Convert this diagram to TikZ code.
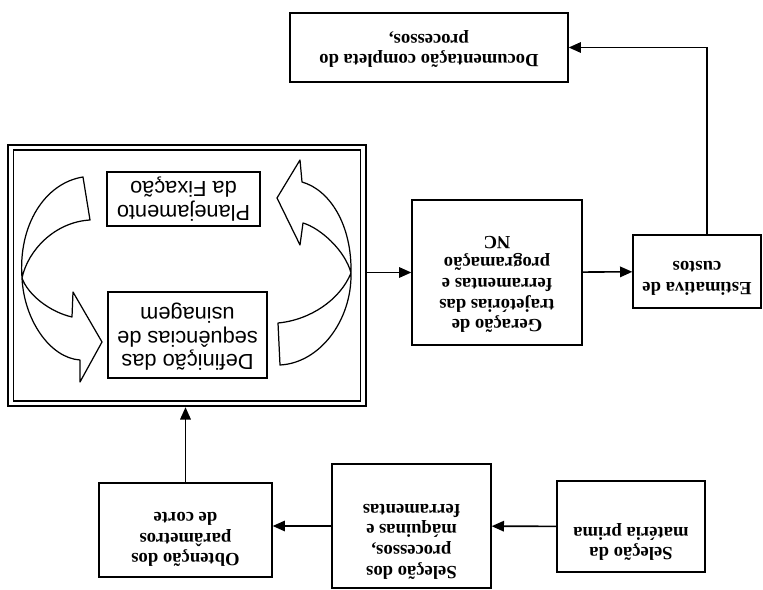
\documentclass[tikz,border=0pt]{standalone}
\usepackage{fontspec}
\setmainfont{Liberation Serif}
\setsansfont{Liberation Sans}
\usetikzlibrary{arrows.meta}

% extra depth below the last line, to push the text up in its box
\newcommand{\pad}[1]{\rule[-#1]{0pt}{0pt}}

\begin{document}
\begin{tikzpicture}[x=0.02cm, y=-0.02cm,
    box/.style={draw, line width=0.8pt, align=center, inner sep=0pt,
      font=\bfseries\fontsize{10.6}{11.8}\selectfont},
    sbox/.style={box, font=\sffamily\fontsize{12.4}{13.2}\selectfont},
    arr/.style={line width=0.9pt, -{Triangle[length=7pt,width=6pt]}},
    curvarrow/.style={draw, line width=0.7pt, line join=round}]

    \useasboundingbox (0,0) rectangle (763,590);

    % the whole diagram is printed upside down
    \begin{scope}[rotate around={180:(381.5,295)}, transform shape]

    % First row
    \node[box, minimum width=2.96cm, minimum height=1.82cm] (mat) at (132,63.5)
        {Seleção da\\matéria prima\pad{20pt}};
    \node[box, minimum width=3.18cm, minimum height=2.48cm] (proc) at (351.5,64)
        {Seleção dos\\processos,\\máquinas e\\ferramentas\pad{18pt}};
    \node[box, minimum width=3.46cm, minimum height=1.88cm] (obt) at (577.5,60)
        {Obtenção dos\\parâmetros\\de corte\pad{11pt}};

    % Big double frame with the two inner steps
    \node[draw, line width=1.4pt, minimum width=7.16cm, minimum height=5.22cm] (fix) at (576,314.5) {};
    \node[draw, line width=0.6pt, minimum width=6.96cm, minimum height=5.02cm] (fixin) at (fix) {};
    \node[sbox, minimum width=3.18cm, minimum height=1.72cm] (defin) at (575.5,255)
        {Definição das\\sequências de\\usinagem\pad{4.5pt}};
    \node[sbox, minimum width=3.06cm, minimum height=1.08cm] (planej) at (579.5,391)
        {Planejamento\\da Fixação};

    % Curved block arrows
    \draw[curvarrow] (680,413) .. controls (718,407) and (745,365) .. (741,312)
        .. controls (739,270) and (713,232) .. (683,230) -- (683,208) -- (661,248)
        -- (690,298) -- (691,273) .. controls (713,278) and (735,295) .. (741,312)
        .. controls (735,340) and (708,368) .. (673,370) -- cycle;
    \draw[curvarrow] (483,225) .. controls (443,227) and (411,270) .. (412,317)
        .. controls (411,365) and (433,400) .. (461,408) -- (463,430) -- (486,392)
        -- (463,345) -- (460,367) .. controls (443,362) and (418,340) .. (412,317)
        .. controls (423,290) and (453,270) .. (485,267) -- cycle;

    % Second row
    \node[box, minimum width=3.4cm, minimum height=2.9cm] (ger) at (266,317.5)
        {Geração de\\trajetórias das\\ferramentas e\\programação\\NC\pad{14pt}};
    \node[box, minimum width=2.56cm, minimum height=1.46cm] (estim) at (66,318.5)
        {Estimativa de\\custos\pad{8pt}};

    % Last box
    \node[box, minimum width=5.56cm, minimum height=1.38cm] (doc) at (334,542.5)
        {Documentação completa do\\processos,\pad{4pt}};

    % Connectors
    \draw[arr] (mat) -- (proc);
    \draw[arr] (proc) -- (proc -| obt.west);
    \draw[arr] (obt) -- (obt |- fix.north);
    \draw[arr] (ger -| fix.west) -- (ger);
    \draw[arr] (ger) -- (estim);
    \coordinate (corner) at (56,542.5);
    \draw[arr] (estim.south -| corner) -- (corner) -- (doc);

    \end{scope}

\end{tikzpicture}
\end{document}
